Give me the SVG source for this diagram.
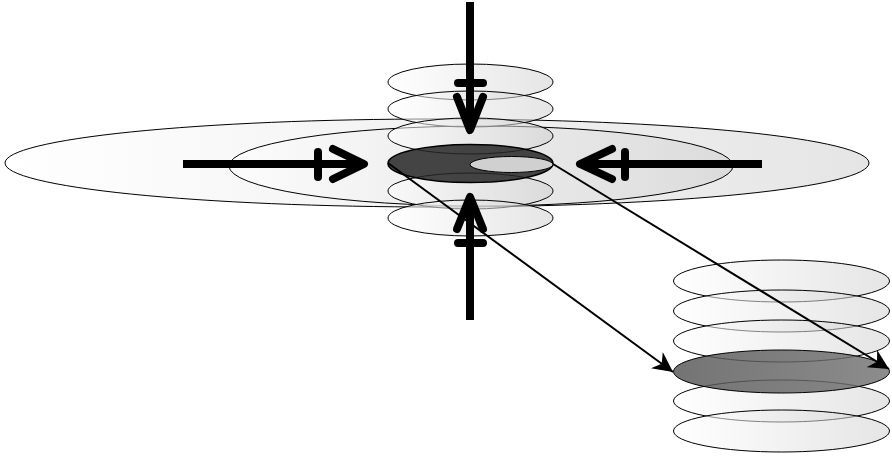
<svg xmlns="http://www.w3.org/2000/svg" width="892" height="456" viewBox="0 0 892 456">
<defs>
<linearGradient id="g" x1="0" y1="0" x2="1" y2="0">
<stop offset="0" stop-color="#ffffff"/>
<stop offset="1" stop-color="#d0d0d0"/>
</linearGradient>
<linearGradient id="gd" x1="0" y1="0" x2="1" y2="0">
<stop offset="0" stop-color="#555555"/>
<stop offset="1" stop-color="#737373"/>
</linearGradient>
<marker id="ah" viewBox="0 0 10 10" refX="10" refY="5" markerWidth="20" markerHeight="20" markerUnits="userSpaceOnUse" orient="auto">
<path d="M0,0 L10,5 L0,10 L3,5 z" fill="#000"/>
</marker>
<style>
.e{fill:url(#g);fill-opacity:0.55;stroke:#000;stroke-width:1}
.d{fill:url(#gd);fill-opacity:0.82;stroke:#000;stroke-width:1}
.thick{stroke:#000;stroke-width:8;fill:none;stroke-linecap:round;stroke-linejoin:round}
.shaft{stroke:#000;stroke-width:8;fill:none;stroke-linecap:butt}
.thin{stroke:#000;stroke-width:2;fill:none;marker-end:url(#ah)}
</style>
</defs>
<g id="big-disc"><ellipse class="e" cx="437" cy="163" rx="432" ry="44"/></g>
<g id="mid-disc"><ellipse class="e" cx="481" cy="166" rx="252" ry="40"/></g>
<g id="stack-center">
<ellipse class="e" cx="470.5" cy="82" rx="82.5" ry="18"/>
<ellipse class="e" cx="470.5" cy="109" rx="82.5" ry="18"/>
<ellipse class="e" cx="470.5" cy="136" rx="82.5" ry="18"/>
<ellipse class="e" cx="470.5" cy="191" rx="82.5" ry="18"/>
<ellipse class="e" cx="470.5" cy="218" rx="82.5" ry="18"/>
</g>
<g id="core">
<ellipse cx="470.5" cy="163.5" rx="82.5" ry="19" fill="#262626" fill-opacity="0.85" stroke="#000" stroke-width="1.5"/>
<ellipse cx="511.5" cy="164.5" rx="41.5" ry="8" fill="#d0d0d0" stroke="#000" stroke-width="1"/>
</g>
<g id="stack-right">
<ellipse class="e" cx="781.5" cy="281" rx="108" ry="21"/>
<ellipse class="e" cx="781.5" cy="311" rx="108" ry="21"/>
<ellipse class="e" cx="781.5" cy="341" rx="108" ry="21"/>
<ellipse class="e" cx="781.5" cy="401" rx="108" ry="21"/>
<ellipse class="e" cx="781.5" cy="431" rx="108" ry="21"/>
<ellipse class="d" cx="781.5" cy="371.5" rx="108" ry="21.5"/>
</g>
<g id="connectors">
<line class="thin" x1="388" y1="163" x2="673" y2="372"/>
<line class="thin" x1="553" y1="164" x2="889" y2="369"/>
<line class="shaft" x1="470" y1="2" x2="470" y2="130"/>
<polyline class="thick" points="457,97 470,130 483,97"/>
<line class="thick" x1="458" y1="83" x2="483" y2="83"/>
<line class="shaft" x1="470" y1="320" x2="470" y2="197"/>
<polyline class="thick" points="457,229 470,197 483,229"/>
<line class="thick" x1="458" y1="243" x2="483" y2="243"/>
<line class="shaft" x1="183" y1="164" x2="364" y2="164"/>
<polyline class="thick" points="333,149 364,164 333,179"/>
<line class="thick" x1="318" y1="152" x2="318" y2="177"/>
<line class="shaft" x1="762" y1="164" x2="580" y2="164"/>
<polyline class="thick" points="612,149 580,164 612,179"/>
<line class="thick" x1="625" y1="152" x2="625" y2="177"/>
</g>
</svg>
